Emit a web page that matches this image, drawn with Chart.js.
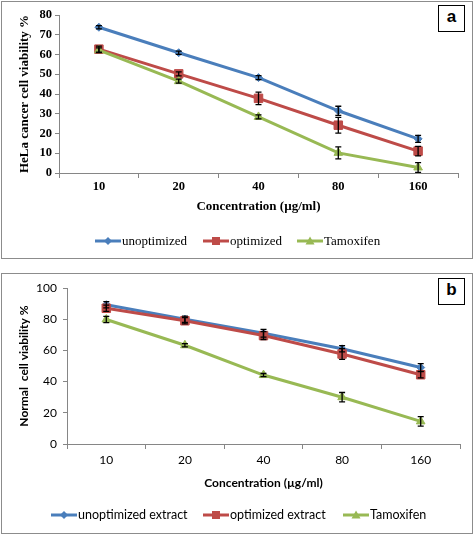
<!DOCTYPE html>
<html>
<head>
<meta charset="utf-8">
<script src="https://cdn.jsdelivr.net/npm/chart.js@4.4.0/dist/chart.umd.min.js"></script>
<style>
  body { margin: 0; background: #fff; width: 474px; height: 535px; position: relative; overflow: hidden; }
  canvas { position: absolute; left: 0; }
  .frame { position: absolute; border: 1px solid #8c8c8c; box-sizing: border-box; pointer-events: none; }
  .tag { position: absolute; width: 27px; height: 27px; border: 1.5px solid #000; box-sizing: border-box;
         font: bold 17px "Liberation Sans", Arial, sans-serif; text-align: center; line-height: 22px; background: #fff; }
  .item { position: absolute; display: flex; align-items: center; white-space: nowrap; color: #000; }
  .item svg { display: block; margin-right: 1px; }
  #legendA .item { font: 13px "Liberation Serif", "Times New Roman", serif; }
  #legendB .item { font: 12.5px Lato, "Open Sans", sans-serif; }
</style>
</head>
<body>
<div class="frame" style="left:1px;top:1px;width:472px;height:258px"></div>
<div class="frame" style="left:1px;top:273px;width:472px;height:261px"></div>
<canvas id="chartA" width="474" height="262" style="top:0"></canvas>
<canvas id="chartB" width="474" height="265" style="top:270px"></canvas>
<div class="tag" style="left:438px;top:5px">a</div>
<div class="tag" style="left:438px;top:278px">b</div>
<div id="legendA"></div>
<div id="legendB"></div>
<script>
// x categories
const concentrations = ['10', '20', '40', '80', '160'];

// panel a: HeLa cancer cells
const helaUnoptimized = [73.8, 60.9, 48.3, 31.5, 17.3];
const helaUnoptimizedErr = [0.8, 0.8, 1, 2.3, 1.8];
const helaOptimized = [62.7, 50.2, 37.8, 24.2, 11.1];
const helaOptimizedErr = [1.5, 1, 3.2, 4, 2.4];
const helaTamoxifen = [62.2, 46.5, 28.4, 10.2, 2.8];
const helaTamoxifenErr = [1.2, 1, 1, 3, 2.5];
const helaLabels = ['unoptimized', 'optimized', 'Tamoxifen'];

// panel b: normal cells
const normalUnoptimized = [89.3, 80, 71, 61, 49];
const normalUnoptimizedErr = [2, 2, 2.5, 2, 2.5];
const normalOptimized = [87, 79, 69.5, 57.7, 44.4];
const normalOptimizedErr = [2, 2, 2.5, 3.5, 2];
const normalTamoxifen = [79.8, 63.3, 44.2, 30, 14.5];
const normalTamoxifenErr = [2, 1, 1, 3, 3];
const normalLabels = ['unoptimized extract', 'optimized extract', 'Tamoxifen'];

const colors = ['#4a7ebb', '#be4b48', '#98b954'];
const markers = ['rectRot', 'rect', 'triangle'];
const markerSizes = [4, 6, 5];
const axisGray = '#868686';

Chart.defaults.color = '#000';

const errorBars = {
  id: 'errorBars',
  afterDatasetsDraw(chart) {
    const ctx = chart.ctx;
    const y = chart.scales.y;
    ctx.save();
    ctx.strokeStyle = '#000';
    ctx.lineWidth = 1.3;
    chart.data.datasets.forEach((ds, i) => {
      const meta = chart.getDatasetMeta(i);
      ds.errors.forEach((e, j) => {
        const x = meta.data[j].x;
        const top = y.getPixelForValue(ds.data[j] + e);
        const bottom = y.getPixelForValue(ds.data[j] - e);
        ctx.beginPath();
        ctx.moveTo(x, top); ctx.lineTo(x, bottom);
        ctx.moveTo(x - 3, top); ctx.lineTo(x + 3, top);
        ctx.moveTo(x - 3, bottom); ctx.lineTo(x + 3, bottom);
        ctx.stroke();
      });
    });
    ctx.restore();
  }
};

function series(labels, values, errors) {
  return values.map((v, i) => ({
    label: labels[i],
    data: v,
    errors: errors[i],
    borderColor: colors[i],
    backgroundColor: colors[i],
    borderWidth: 3,
    pointStyle: markers[i],
    pointRadius: markerSizes[i],
    pointBorderWidth: 1,
    tension: 0,
    order: 3 - i
  }));
}

function makeChart(id, o) {
  return new Chart(document.getElementById(id), {
    type: 'line',
    data: { labels: concentrations, datasets: o.datasets },
    options: {
      responsive: false,
      animation: false,
      layout: { padding: { left: 0, top: o.top, right: o.right, bottom: o.bottom } },
      plugins: { legend: { display: false }, tooltip: { enabled: false } },
      scales: {
        x: {
          offset: true,
          afterFit: s => { s.height = o.xHeight; },
          grid: { offset: true, drawOnChartArea: false, tickLength: 5, color: axisGray },
          border: { color: axisGray },
          ticks: { font: o.tickFont, padding: o.xTickPad },
          title: { display: true, text: 'Concentration (µg/ml)', font: o.titleFont, padding: { top: 0, bottom: o.xTitlePad } }
        },
        y: {
          min: 0, max: o.max,
          afterFit: s => { s.width = o.yWidth; },
          grid: { drawOnChartArea: false, tickLength: 4, color: axisGray },
          border: { color: axisGray },
          ticks: { stepSize: o.step, font: o.tickFont, padding: o.yTickPad },
          title: { display: true, text: o.yTitle, font: o.titleFont, padding: { top: o.yTitlePad, bottom: 0 } }
        }
      }
    },
    plugins: [errorBars]
  });
}

const serif = '"Liberation Serif", "Times New Roman", serif';
const sans = 'Lato, "Open Sans", sans-serif';

makeChart('chartA', {
  datasets: series(helaLabels, [helaUnoptimized, helaOptimized, helaTamoxifen],
                   [helaUnoptimizedErr, helaOptimizedErr, helaTamoxifenErr]),
  max: 80, step: 10,
  top: 15, right: 16, bottom: 44, xHeight: 45, yWidth: 59,
  tickFont: { family: serif, size: 12.5, weight: 'bold' },
  titleFont: { family: serif, size: 13, weight: 'bold' },
  xTickPad: 1, xTitlePad: 4, yTickPad: 3, yTitlePad: 17,
  yTitle: 'HeLa cancer cell viability %'
});

makeChart('chartB', {
  datasets: series(normalLabels, [normalUnoptimized, normalOptimized, normalTamoxifen],
                   [normalUnoptimizedErr, normalOptimizedErr, normalTamoxifenErr]),
  max: 100, step: 20,
  top: 18, right: 14, bottom: 45, xHeight: 46, yWidth: 67,
  tickFont: { family: sans, size: 12 },
  titleFont: { family: sans, size: 12, weight: 'bold' },
  xTickPad: 4, xTitlePad: 0, yTickPad: 6, yTitlePad: 17,
  yTitle: 'Normal  cell viability %'
});

// legends (line + marker swatch like the original)
function swatch(i) {
  const c = colors[i];
  let m;
  if (markers[i] === 'rectRot') m = `<polygon points="13,2 17,6 13,10 9,6" fill="${c}"/>`;
  else if (markers[i] === 'rect') m = `<rect x="9" y="2" width="8" height="8" fill="${c}"/>`;
  else m = `<polygon points="13,1.5 17.5,9.5 8.5,9.5" fill="${c}"/>`;
  return `<svg width="26" height="12"><line x1="0" y1="6" x2="26" y2="6" stroke="${c}" stroke-width="3"/>${m}</svg>`;
}

function legend(id, labels, lefts, top) {
  document.getElementById(id).innerHTML = labels.map((t, i) =>
    `<div class="item" style="left:${lefts[i]}px;top:${top}px">${swatch(i)}<span>${t}</span></div>`
  ).join('');
}

legend('legendA', helaLabels, [95, 203, 297], 233);
legend('legendB', normalLabels, [51, 203, 343], 507);
</script>
</body>
</html>
